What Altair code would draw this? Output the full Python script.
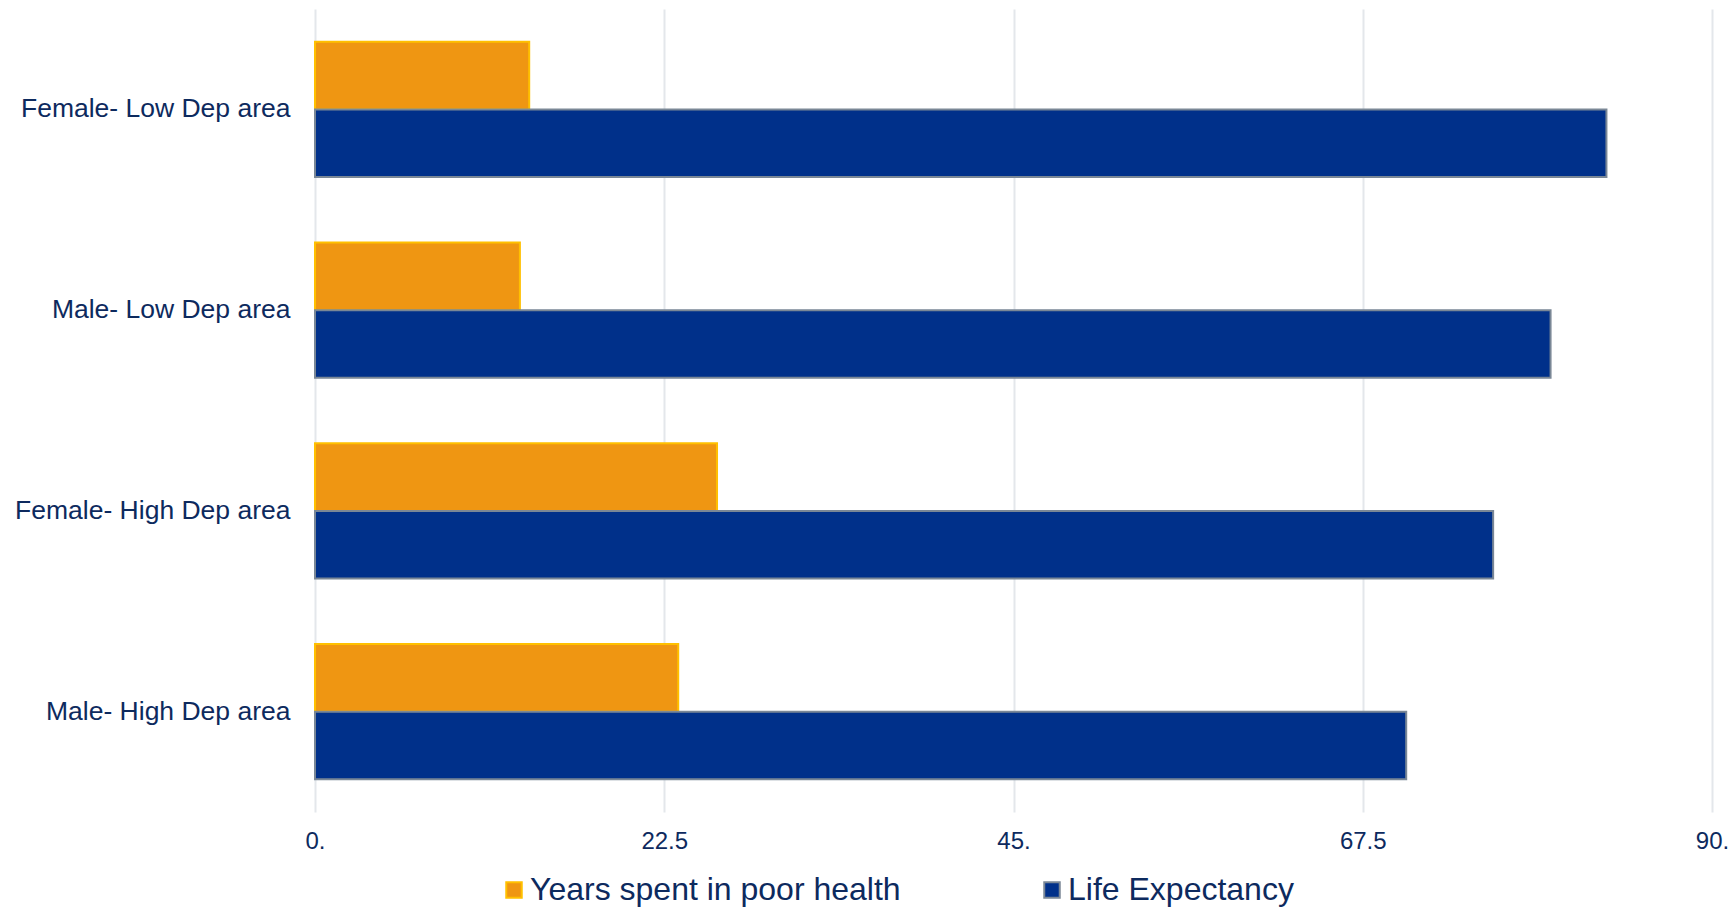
import altair as alt
import pandas as pd

categories = ["Female- Low Dep area", "Male- Low Dep area", "Female- High Dep area", "Male- High Dep area"]
series = ["Years spent in poor health", "Life Expectancy"]
poor_health = [13.8, 13.2, 25.9, 23.4]
life_expectancy = [83.2, 79.6, 75.9, 70.3]
x_ticks = [0, 22.5, 45, 67.5, 90]

rows = []
for c, p, l in zip(categories, poor_health, life_expectancy):
    rows.append({"cat": c, "series": series[0], "value": p})
    rows.append({"cat": c, "series": series[1], "value": l})
df = pd.DataFrame(rows)

text_color = "#0D2A5E"
font = "Liberation Sans"

chart = alt.Chart(df).mark_bar(strokeWidth=2).encode(
    y=alt.Y("cat:N", sort=categories, title=None,
            scale=alt.Scale(paddingInner=0.327, paddingOuter=0.1635),
            axis=alt.Axis(labelFontSize=26.5, labelColor=text_color, labelFont=font, labelLimit=0,
                          labelPadding=25, ticks=False, domain=False, grid=False)),
    yOffset=alt.YOffset("series:N", sort=series),
    x=alt.X("value:Q", title=None,
            scale=alt.Scale(domain=[0, 90], nice=False),
            axis=alt.Axis(values=x_ticks,
                          labelExpr="datum.value % 1 == 0 ? datum.value + '.' : '' + datum.value",
                          labelFontSize=24, labelColor=text_color, labelFont=font, labelFlush=False,
                          labelPadding=17, ticks=False, domain=False,
                          grid=True, gridColor="#E4E7EB", gridWidth=2)),
    color=alt.Color("series:N", sort=series,
                    scale=alt.Scale(domain=series, range=["#EF9612", "#00308A"]),
                    legend=alt.Legend(title=None, orient="none", direction="horizontal",
                                      legendX=183, legendY=865, labelLimit=0,
                                      labelFontSize=32, labelColor=text_color, labelFont=font,
                                      symbolType="square", symbolSize=240, symbolStrokeWidth=2,
                                      labelOffset=0, columnPadding=135)),
    stroke=alt.Stroke("series:N", sort=series,
                      scale=alt.Scale(domain=series, range=["#FFC000", "#7A8796"]),
                      legend=None),
).properties(
    width=1397, height=803, background="white",
    autosize=alt.AutoSizeParams(type="none"),
    padding={"left": 315, "top": 9, "right": 22, "bottom": 96},
).configure_view(stroke=None)

chart.save("out.html", embed_options={"renderer": "svg", "actions": False})
